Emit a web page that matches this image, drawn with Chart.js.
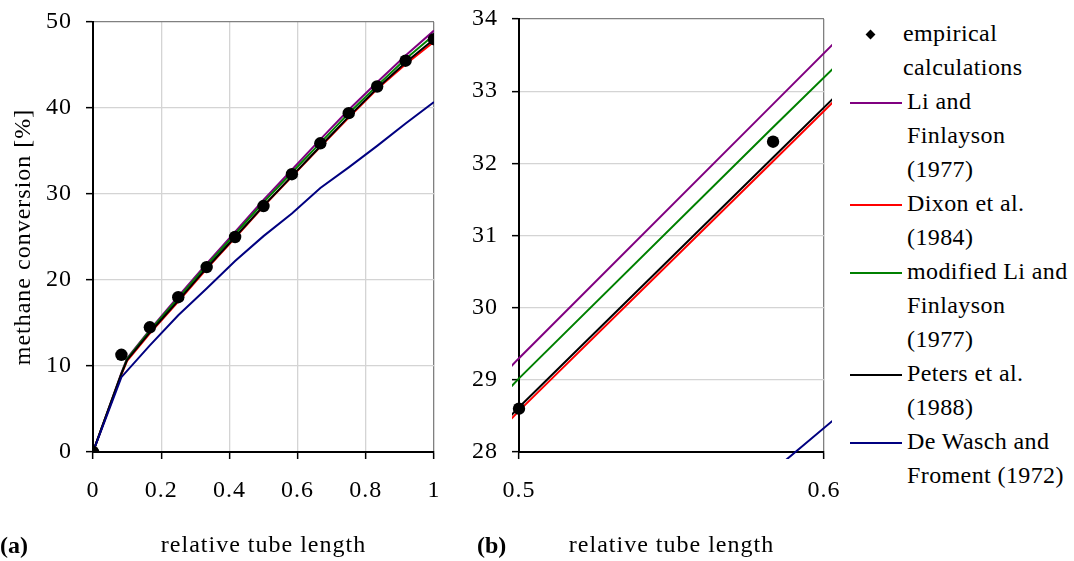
<!DOCTYPE html>
<html>
<head>
<meta charset="utf-8">
<title>methane conversion</title>
<script src="https://cdn.jsdelivr.net/npm/chart.js@4.4.1/dist/chart.umd.min.js"></script>
<style>
    body { margin: 0; background: #fff; width: 1074px; height: 561px; position: relative; overflow: hidden;
           font-family: 'Liberation Serif', 'Times New Roman', serif; color: #000; }
    canvas { position: absolute; top: 0; }
    #chartA { left: 0; }
    #chartB { left: 460px; }
    .tag { position: absolute; top: 532px; font-size: 24px; line-height: 26px; font-weight: bold; }
    #legend { position: absolute; left: 840px; top: 16px; font-size: 24px; line-height: 34px;
              letter-spacing: 0.4px; white-space: nowrap; }
    .entry { position: relative; }
    .entry .swatch { position: absolute; left: 10px; top: 18px; width: 52px; height: 1.5px; }
    .entry .mark { position: absolute; left: 27px; top: 15px; width: 7px; height: 7px; background: #000; transform: rotate(45deg); }
    .entry .text { margin-left: 67px; }
    .entry.marker .text { margin-left: 63px; }
</style>
</head>
<body>
<canvas id="chartA" width="460" height="561"></canvas>
<canvas id="chartB" width="380" height="561"></canvas>
<div class="tag" style="left:0">(a)</div>
<div class="tag" style="left:477px">(b)</div>
<div id="legend"></div>

<script>
// --- Data ---
const xEmp = [0, 0.0833, 0.1667, 0.25, 0.3333, 0.4167, 0.5, 0.5833, 0.6667, 0.75, 0.8333, 0.9167, 1];
const empirical = [0, 11.3, 14.5, 18.0, 21.5, 25.0, 28.6, 32.3, 35.9, 39.4, 42.5, 45.5, 48.0];

const xModel = [0, 0.0833, 0.1, 0.1667, 0.25, 0.3333, 0.4167, 0.5, 0.5833, 0.6667, 0.75, 0.8333, 0.9167, 1];
const liFinlayson = [0, 9.2, 10.9, 14.2, 18.1, 21.9, 25.6, 29.3, 32.82, 36.35, 39.8, 43.0, 46.1, 49.0];
const dixon       = [0, 9.0, 10.6, 13.8, 17.5, 21.3, 24.9, 28.57, 32.03, 35.5, 38.9, 42.2, 45.1, 47.7];
const modifiedLi  = [0, 9.1, 10.8, 14.1, 17.9, 21.7, 25.35, 29.02, 32.5, 35.95, 39.4, 42.6, 45.7, 48.5];
const peters      = [0, 9.1, 10.7, 13.9, 17.6, 21.4, 25.0, 28.62, 32.08, 35.55, 39.0, 42.3, 45.3, 48.0];

const xDeWasch = [0, 0.0833, 0.1667, 0.25, 0.3333, 0.4167, 0.5, 0.5833, 0.6667, 0.75, 0.8333, 0.9167, 1];
const deWasch  = [0, 8.7, 12.4, 15.9, 19.0, 22.2, 25.1, 27.74, 30.7, 33.1, 35.6, 38.2, 40.7];

// legend order; `order` sets drawing order (lower = on top)
const models = [
    { lines: ['Li and', 'Finlayson', '(1977)'], color: '#800080', xs: xModel, ys: liFinlayson, order: 5 },
    { lines: ['Dixon et al.', '(1984)'], color: '#ff0000', xs: xModel, ys: dixon, order: 4 },
    { lines: ['modified Li and', 'Finlayson', '(1977)'], color: '#008000', xs: xModel, ys: modifiedLi, order: 3 },
    { lines: ['Peters et al.', '(1988)'], color: '#000000', xs: xModel, ys: peters, order: 2 },
    { lines: ['De Wasch and', 'Froment (1972)'], color: '#000080', xs: xDeWasch, ys: deWasch, order: 1 }
];

const GRID = '#d4d4d4';
const FRAME = '#808080';

Chart.defaults.font.family = "'Liberation Serif', 'Times New Roman', serif";
Chart.defaults.font.size = 24;
Chart.defaults.color = '#000';

// the serif in this figure runs a little wide
const spacing = {
    id: 'spacing',
    beforeDraw(chart) { chart.ctx.letterSpacing = '1px'; }
};

function pairs(xs, ys) {
    return xs.map((x, i) => ({ x: x, y: ys[i] }));
}

function buildDatasets(clip) {
    const sets = [{
        label: 'empirical calculations',
        data: pairs(xEmp, empirical),
        showLine: false,
        pointRadius: 6.2,
        pointBorderWidth: 0,
        backgroundColor: '#000',
        borderColor: '#000',
        order: 0,
        clip: clip
    }];
    models.forEach(m => {
        sets.push({
            label: m.lines.join(' '),
            data: pairs(m.xs, m.ys),
            showLine: true,
            borderColor: m.color,
            borderWidth: 2,
            pointRadius: 0,
            order: m.order,
            clip: clip
        });
    });
    return sets;
}

// last tick draws the grey frame, the rest are light grid lines
const gridColor = (inner) => (c) => (c.index === c.scale.ticks.length - 1 ? FRAME : inner);
const tickText = (v) => String(Math.round(v * 100) / 100);

function makeScales(cfg) {
    return {
        x: {
            type: 'linear', min: cfg.xMin, max: cfg.xMax,
            ticks: { stepSize: cfg.xStep, padding: 17, callback: tickText },
            grid: { color: gridColor(cfg.xGrid), lineWidth: 1.3, tickColor: '#000', tickLength: 7, tickWidth: 1.5 },
            border: { color: '#000', width: 2 },
            title: { display: true, text: 'relative tube length', padding: { top: 0, bottom: 1 } },
            afterFit: s => { s.height = 109; s.paddingLeft = 0; s.paddingRight = 0; }
        },
        y: {
            type: 'linear', min: cfg.yMin, max: cfg.yMax,
            ticks: { stepSize: cfg.yStep, padding: 14, callback: tickText },
            grid: { color: gridColor(GRID), lineWidth: 1.3, tickColor: '#000', tickLength: 7, tickWidth: 1.5 },
            border: { color: '#000', width: 2 },
            title: { display: cfg.yTitle !== '', text: cfg.yTitle, padding: { top: 9, bottom: 0 } },
            afterFit: s => { s.width = cfg.yWidth; s.paddingTop = 0; s.paddingBottom = 0; }
        }
    };
}

function commonOptions(cfg) {
    return {
        responsive: false,
        animation: false,
        layout: { padding: cfg.padding },
        plugins: { legend: { display: false }, tooltip: { enabled: false } },
        scales: makeScales(cfg)
    };
}

// (a) whole tube
new Chart(document.getElementById('chartA'), {
    type: 'scatter',
    data: { datasets: buildDatasets(undefined) },
    options: commonOptions({
        xMin: 0, xMax: 1, xStep: 0.2, xGrid: GRID,
        yMin: 0, yMax: 50, yStep: 10,
        yTitle: 'methane conversion [%]', yWidth: 93,
        padding: { top: 22, right: 26, bottom: 0, left: 0 }
    }),
    plugins: [spacing]
});

// (b) close-up between 0.5 and 0.6
new Chart(document.getElementById('chartB'), {
    type: 'scatter',
    data: { datasets: buildDatasets({ left: 7, top: 7, right: 8, bottom: 7 }) },
    options: commonOptions({
        xMin: 0.5, xMax: 0.6, xStep: 0.1, xGrid: 'rgba(0,0,0,0)',
        yMin: 28, yMax: 34, yStep: 1,
        yTitle: '', yWidth: 59,
        padding: { top: 19, right: 16, bottom: 0, left: 0 }
    }),
    plugins: [spacing]
});

// --- Legend ---
const legend = document.getElementById('legend');

function addEntry(lines, color, isMarker) {
    const div = document.createElement('div');
    div.className = 'entry' + (isMarker ? ' marker' : '');
    const sw = document.createElement('div');
    if (isMarker) {
        sw.className = 'mark';
    } else {
        sw.className = 'swatch';
        sw.style.background = color;
    }
    div.appendChild(sw);
    const txt = document.createElement('div');
    txt.className = 'text';
    txt.innerHTML = lines.join('<br>');
    div.appendChild(txt);
    legend.appendChild(div);
}

addEntry(['empirical', 'calculations'], '#000', true);
models.forEach(m => addEntry(m.lines, m.color, false));
</script>
</body>
</html>
